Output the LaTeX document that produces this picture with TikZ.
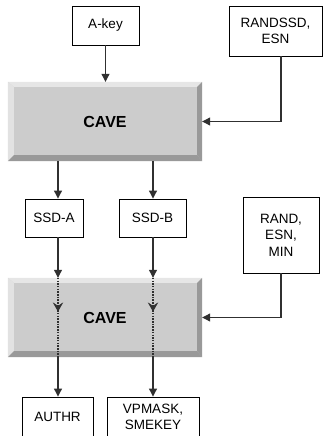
\documentclass[tikz,border=0pt]{standalone}
\usepackage{fontspec}
\setmainfont{Liberation Sans}
\usetikzlibrary{arrows.meta,calc}
\definecolor{facegray}{HTML}{CCCCCC}
\definecolor{lightbevel}{HTML}{E6E6E6}
\definecolor{darkbevel}{HTML}{999999}
\definecolor{linegray}{HTML}{303030}
\tikzset{
  box/.style={draw=black,line width=0.9pt,fill=white,inner sep=0pt,align=center,
    font=\fontsize{13.5}{16.5}\selectfont},
  cavebox/.style={inner sep=0pt,minimum width=194pt,minimum height=79pt,
    font=\fontsize{16}{18}\selectfont\bfseries},
  conn/.style={draw=linegray,line width=1.1pt,-{Triangle[width=8pt,length=8pt]}},
  dotline/.style={draw=linegray,line width=1.2pt,dash pattern=on 1.5pt off 1.2pt},
  midtip/.style={fill=linegray,draw=linegray,line width=0.5pt,line join=miter}
}
\newcommand{\bevel}[1]{%
  \fill[facegray] (#1.north west) rectangle (#1.south east);
  \fill[lightbevel] (#1.north west) -- (#1.north east) -- ($(#1.north east)+(-5,5)$) -- ($(#1.north west)+(6,5)$) -- cycle;
  \fill[lightbevel!85!facegray] (#1.north west) -- ($(#1.north west)+(6,5)$) -- ($(#1.south west)+(6,-6)$) -- (#1.south west) -- cycle;
  \fill[darkbevel] (#1.north east) -- (#1.south east) -- ($(#1.south east)+(-5,-6)$) -- ($(#1.north east)+(-5,5)$) -- cycle;
  \fill[darkbevel] (#1.south west) -- (#1.south east) -- ($(#1.south east)+(-5,-6)$) -- ($(#1.south west)+(6,-6)$) -- cycle;
}
\newcommand{\ytip}[1]{%
  \filldraw[midtip] (#1) -- ($(#1)+(-4.5,-8)$) -- ($(#1)+(0,-5)$) -- ($(#1)+(4.5,-8)$) -- cycle;
}
\begin{document}
\begin{tikzpicture}[x=1pt,y=-1pt]
\useasboundingbox (0,0) rectangle (331,436);
\clip (0,0) rectangle (331,436);
% x positions of vertical connectors
\coordinate (cA) at (58,0);
\coordinate (cB) at (153,0);
\coordinate (cR) at (281,0);
% CAVE blocks
\node[cavebox] (cave1) at (105,121.5) {};
\bevel{cave1}
\node[cavebox] (cave1t) at (cave1.center) {CAVE};
\node[cavebox] (cave2) at (105,317.5) {};
\bevel{cave2}
% boxes
\node[box,minimum width=67pt,minimum height=39pt] (akey) at (105.5,25.5) {A-key};
\node[box,minimum width=93pt,minimum height=50pt] (randssd) at (275.5,31) {RANDSSD,\\ESN};
\node[box,minimum width=58pt,minimum height=38pt] (ssda) at (54,218) {SSD-A};
\node[box,minimum width=67pt,minimum height=38pt] (ssdb) at (152.5,218) {SSD-B};
\node[box,minimum width=76pt,minimum height=76pt] (rand) at (281,235) {RAND,\\ESN,\\MIN};
\node[box,minimum width=71pt,minimum height=40pt] (authr) at (57.5,417) {AUTHR};
\node[box,minimum width=92pt,minimum height=40pt] (vpmask) at (153,417) {VPMASK,\\SMEKEY};
% top connectors
\draw[conn] (akey.south) -- (cave1.north -| akey.south);
\draw[conn] (randssd.south -| cR) |- (cave1.east);
\draw[conn] (cave1.south -| cA) -- (ssda.north -| cA);
\draw[conn] (cave1.south -| cB) -- (ssdb.north -| cB);
% into second CAVE
\draw[conn] (ssda.south -| cA) -- (cave2.north -| cA);
\draw[conn] (ssdb.south -| cB) -- (cave2.north -| cB);
\draw[conn] (rand.south -| cR) |- (cave2.east);
% dotted pass-through
\coordinate (mA) at ($(cave2.north -| cA)!0.42!(cave2.south -| cA)$);
\coordinate (mB) at ($(cave2.north -| cB)!0.42!(cave2.south -| cB)$);
\draw[dotline] (cave2.north -| cA) -- (cave2.south -| cA);
\draw[dotline] (cave2.north -| cB) -- (cave2.south -| cB);
\ytip{mA}
\ytip{mB}
\node[cavebox] (cave2t) at (cave2.center) {CAVE};
% outputs
\draw[conn] (cave2.south -| cA) -- (authr.north -| cA);
\draw[conn] (cave2.south -| cB) -- (vpmask.north -| cB);
\end{tikzpicture}
\end{document}
